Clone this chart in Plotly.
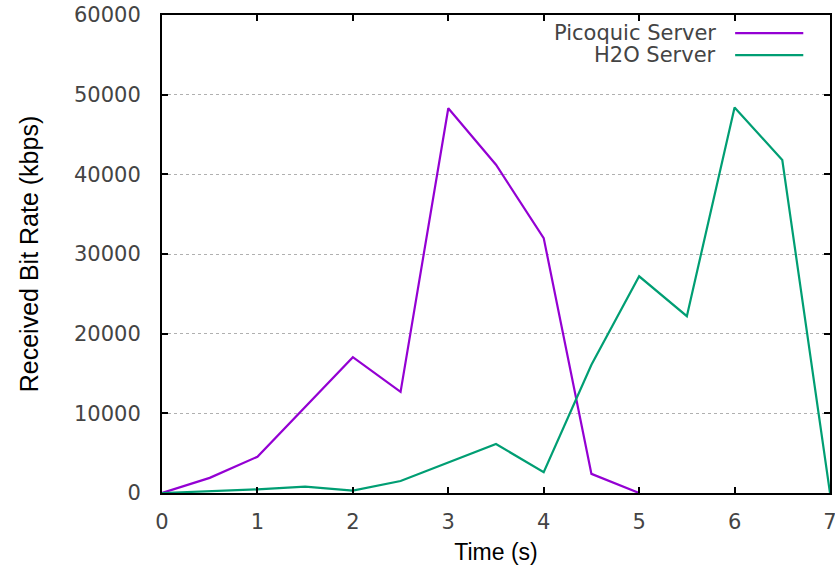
import plotly.graph_objects as go

time_s = [0, 0.5, 1, 1.5, 2, 2.5, 3, 3.5, 4, 4.5, 5, 5.5, 6, 6.5, 7]
picoquic_kbps = [0, 1900, 4550, 10800, 17050, 12700, 48300, 41200, 32000, 2400, 0]
h2o_kbps = [0, 200, 450, 800, 300, 1500, 3800, 6150, 2600, 16100, 27200, 22200, 48400, 41800, 0]
series_names = ["Picoquic Server", "H2O Server"]
series_colors = ["#9400d3", "#009e73"]
x_ticks = [0, 1, 2, 3, 4, 5, 6, 7]
y_ticks = [0, 10000, 20000, 30000, 40000, 50000, 60000]

fig = go.Figure()
fig.add_trace(go.Scatter(x=time_s[:len(picoquic_kbps)], y=picoquic_kbps, mode="lines",
                         line=dict(color=series_colors[0], width=2.2), name=series_names[0],
                         showlegend=False, cliponaxis=False))
fig.add_trace(go.Scatter(x=time_s[:len(h2o_kbps)], y=h2o_kbps, mode="lines",
                         line=dict(color=series_colors[1], width=2.2), name=series_names[1],
                         showlegend=False, cliponaxis=False))

tick_font = dict(family="DejaVu Sans", size=21, color="#444444")
legend_font = dict(family="DejaVu Sans", size=21, color="#444444")
title_font = dict(family="Liberation Sans", size=23, color="#000000")

fig.update_xaxes(range=[0, 7], tickvals=x_ticks, ticktext=[str(v) for v in x_ticks],
                 ticks="inside", ticklen=6, tickwidth=2, automargin=False, ticklabelstandoff=9,
                 ticklabeloverflow="allow",
                 tickcolor="#000", showline=True, linecolor="#000", linewidth=2, mirror="ticks",
                 showgrid=False, zeroline=False, tickfont=tick_font,
                 title=dict(text="Time (s)", font=title_font, standoff=11))
fig.update_yaxes(range=[0, 60000], tickvals=y_ticks, ticktext=[str(v) for v in y_ticks],
                 ticks="inside", ticklen=6, tickwidth=2, automargin=False, ticklabelstandoff=15,
                 ticklabeloverflow="allow",
                 tickcolor="#000", showline=True, linecolor="#000", linewidth=2, mirror="ticks",
                 showgrid=True, gridcolor="#b0b0b0", griddash="dot", gridwidth=1,
                 zeroline=False, tickfont=tick_font,
                 title=dict(text="Received Bit Rate (kbps)",
                            font=dict(family="Liberation Sans", size=25, color="#000000"),
                            standoff=28))

# gnuplot-style legend: text right-aligned, sample line on the right
legend_y = [0.962, 0.916]
for name, color, ly in zip(series_names, series_colors, legend_y):
    fig.add_annotation(x=0.832, y=ly, xref="paper", yref="paper", text=name, showarrow=False,
                       xanchor="right", yanchor="middle", font=legend_font)
    fig.add_shape(type="line", xref="paper", yref="paper", x0=0.858, x1=0.96, y0=ly, y1=ly,
                  line=dict(color=color, width=2.2))

fig.update_layout(width=835, height=566, margin=dict(l=162, r=5, t=15, b=73),
                  plot_bgcolor="white", paper_bgcolor="white")
fig.write_html("out.html", config={"displayModeBar": False},
               post_script="document.body.style.margin='0';document.body.style.overflow='hidden';")
